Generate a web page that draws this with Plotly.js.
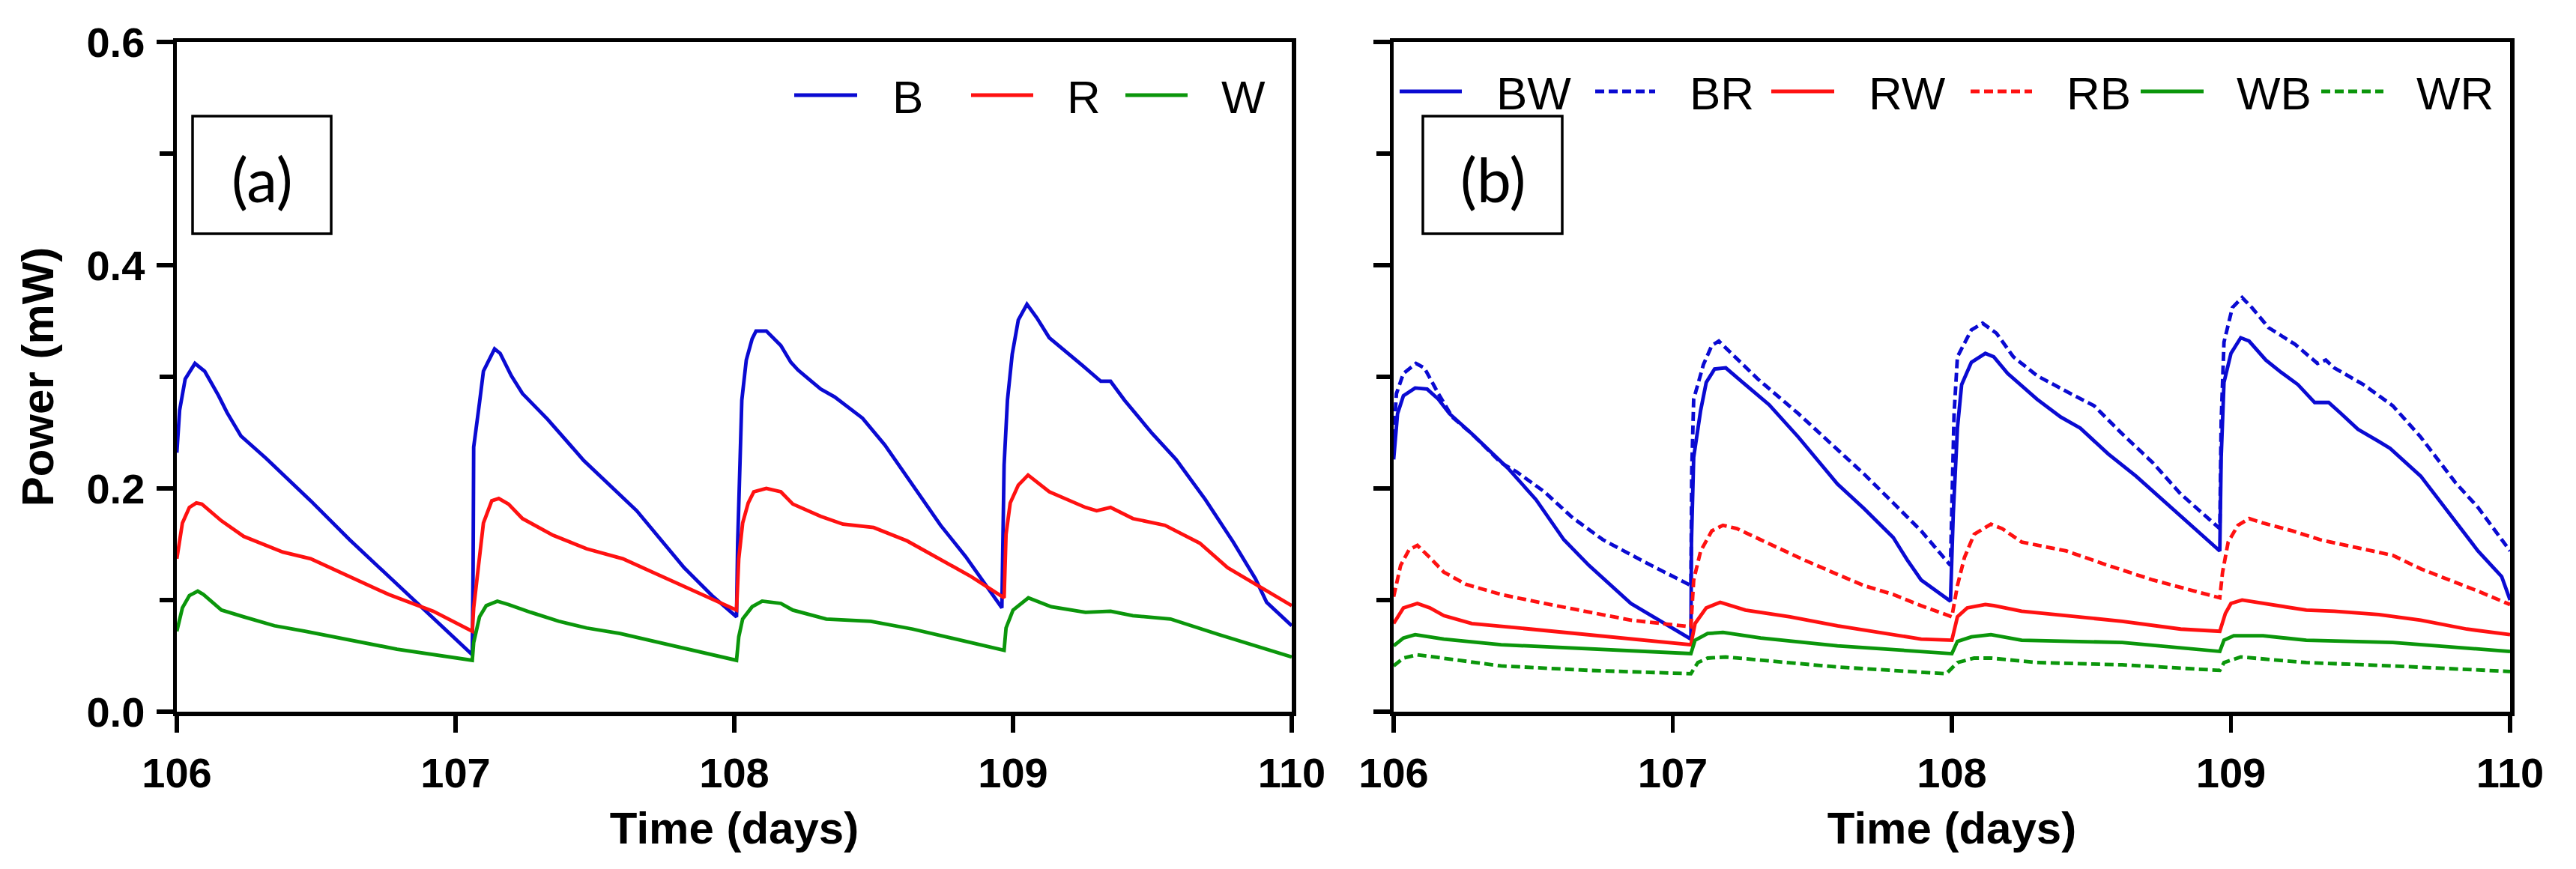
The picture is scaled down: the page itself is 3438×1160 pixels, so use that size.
<!DOCTYPE html>
<html>
<head>
<meta charset="utf-8">
<script src="https://cdn.plot.ly/plotly-3.0.1.min.js"></script>
<style>html,body{margin:0;padding:0;background:#fff;}#chart{width:3438px;height:1160px;}</style>
</head>
<body>
<div id="chart"></div>
<script>
// ---------- DATA ----------
const xTicks = [106, 107, 108, 109, 110];
const yTicks = [0.0, 0.2, 0.4, 0.6];
const yTickText = ['0.0', '0.2', '0.4', '0.6'];
const yMinorTicks = [0.1, 0.3, 0.5];
const xTitle = 'Time (days)';
const yTitle = 'Power (mW)';
const panelLabels = ['(a)', '(b)'];

// Panel (a)
const tB = [106.00,106.01,106.03,106.065,106.10,106.15,106.18,106.23,106.32,106.48,106.62,106.83,107.06,107.063,107.065,107.086,107.10,107.14,107.16,107.20,107.24,107.33,107.46,107.65,107.82,107.92,108.008,108.012,108.016,108.027,108.043,108.064,108.078,108.115,108.167,108.203,108.229,108.31,108.36,108.46,108.54,108.64,108.74,108.83,108.91,108.96,108.968,108.98,108.997,109.019,109.05,109.085,109.13,109.19,109.25,109.315,109.35,109.40,109.50,109.585,109.69,109.79,109.87,109.91,110.00];
const pB = [0.232,0.270,0.298,0.312,0.305,0.283,0.268,0.247,0.227,0.189,0.154,0.105,0.051,0.130,0.237,0.277,0.305,0.325,0.321,0.301,0.285,0.262,0.225,0.180,0.129,0.104,0.085,0.150,0.187,0.279,0.315,0.334,0.341,0.341,0.328,0.313,0.306,0.289,0.282,0.263,0.239,0.203,0.167,0.139,0.111,0.093,0.221,0.279,0.320,0.351,0.365,0.353,0.335,0.323,0.310,0.296,0.296,0.279,0.249,0.226,0.190,0.152,0.119,0.098,0.077];

const tR = [106.00,106.02,106.045,106.07,106.09,106.16,106.24,106.38,106.48,106.60,106.76,106.92,107.06,107.065,107.086,107.10,107.13,107.155,107.19,107.24,107.35,107.47,107.60,107.84,108.008,108.016,108.03,108.05,108.07,108.115,108.167,108.21,108.31,108.39,108.50,108.62,108.72,108.85,108.968,108.975,108.99,109.019,109.054,109.13,109.26,109.30,109.35,109.43,109.545,109.67,109.77,109.895,110.00];
const pR = [0.137,0.169,0.183,0.187,0.186,0.171,0.157,0.143,0.137,0.123,0.105,0.090,0.072,0.093,0.143,0.169,0.189,0.191,0.186,0.173,0.158,0.146,0.137,0.110,0.091,0.137,0.169,0.187,0.197,0.200,0.197,0.186,0.175,0.168,0.165,0.153,0.139,0.121,0.102,0.159,0.187,0.203,0.212,0.197,0.183,0.180,0.183,0.173,0.167,0.151,0.129,0.111,0.095];

const tW = [106.00,106.02,106.045,106.075,106.095,106.16,106.24,106.35,106.46,106.60,106.79,107.06,107.065,107.086,107.11,107.15,107.19,107.27,107.37,107.47,107.59,107.80,108.008,108.016,108.03,108.064,108.10,108.167,108.21,108.33,108.49,108.64,108.80,108.968,108.975,109.00,109.055,109.137,109.26,109.35,109.43,109.565,109.74,110.00];
const pW = [0.072,0.093,0.104,0.108,0.105,0.091,0.085,0.077,0.072,0.065,0.056,0.046,0.062,0.085,0.095,0.099,0.096,0.089,0.081,0.075,0.070,0.058,0.046,0.067,0.083,0.094,0.099,0.097,0.091,0.083,0.081,0.074,0.065,0.055,0.075,0.091,0.102,0.094,0.089,0.090,0.086,0.083,0.069,0.049];

// Panel (b)
const tBW = [106.00,106.014,106.035,106.077,106.12,106.16,106.20,106.28,106.41,106.51,106.61,106.70,106.85,107.005,107.065,107.067,107.075,107.10,107.12,107.15,107.19,107.26,107.345,107.45,107.59,107.685,107.79,107.84,107.89,107.995,108.005,108.02,108.035,108.07,108.12,108.15,108.20,108.305,108.39,108.46,108.56,108.66,108.81,108.89,108.96,108.965,108.975,109.00,109.035,109.065,109.125,109.18,109.24,109.30,109.35,109.395,109.455,109.53,109.57,109.68,109.785,109.885,109.97,110.00];
const pBW = [0.226,0.267,0.283,0.290,0.289,0.280,0.267,0.249,0.218,0.190,0.154,0.131,0.097,0.074,0.065,0.152,0.228,0.270,0.295,0.307,0.308,0.293,0.275,0.246,0.204,0.182,0.156,0.136,0.118,0.099,0.177,0.254,0.293,0.313,0.321,0.318,0.303,0.280,0.264,0.254,0.231,0.211,0.177,0.159,0.144,0.228,0.295,0.321,0.335,0.332,0.315,0.304,0.293,0.277,0.277,0.267,0.253,0.242,0.236,0.211,0.177,0.144,0.121,0.100];

const tBR = [106.00,106.01,106.035,106.08,106.11,106.16,106.21,106.28,106.385,106.44,106.54,106.64,106.75,106.90,107.065,107.068,107.075,107.11,107.14,107.165,107.21,107.305,107.45,107.59,107.685,107.79,107.89,107.995,108.008,108.02,108.07,108.11,108.16,108.22,108.305,108.41,108.51,108.61,108.72,108.82,108.96,108.965,108.975,109.005,109.04,109.075,109.135,109.23,109.31,109.34,109.37,109.475,109.58,109.68,109.805,109.885,110.00];
const pBR = [0.245,0.285,0.303,0.312,0.308,0.285,0.264,0.249,0.223,0.215,0.197,0.174,0.154,0.134,0.113,0.215,0.280,0.311,0.328,0.332,0.321,0.298,0.267,0.235,0.213,0.187,0.162,0.131,0.267,0.318,0.342,0.348,0.339,0.318,0.301,0.287,0.274,0.249,0.223,0.195,0.164,0.260,0.331,0.362,0.371,0.362,0.344,0.329,0.312,0.315,0.308,0.293,0.274,0.246,0.205,0.183,0.144];

const tRW = [106.00,106.035,106.085,106.13,106.18,106.28,106.49,106.70,106.90,107.065,107.08,107.12,107.17,107.26,107.42,107.59,107.89,108.00,108.02,108.055,108.12,108.15,108.25,108.41,108.61,108.82,108.96,108.98,109.00,109.04,109.115,109.27,109.37,109.53,109.68,109.845,110.00];
const pRW = [0.079,0.093,0.097,0.093,0.086,0.079,0.074,0.069,0.064,0.060,0.079,0.093,0.098,0.091,0.085,0.077,0.065,0.064,0.085,0.093,0.096,0.095,0.090,0.086,0.081,0.074,0.072,0.088,0.097,0.100,0.097,0.091,0.090,0.087,0.082,0.074,0.069];

const tRB = [106.00,106.025,106.055,106.085,106.13,106.18,106.26,106.385,106.54,106.70,106.85,107.065,107.075,107.10,107.14,107.18,107.23,107.315,107.47,107.59,107.685,107.79,107.89,108.00,108.02,108.045,108.08,108.14,108.18,108.25,108.41,108.56,108.72,108.87,108.96,108.97,108.99,109.025,109.065,109.115,109.22,109.32,109.475,109.58,109.68,109.785,109.885,110.00];
const pRB = [0.103,0.131,0.145,0.149,0.138,0.125,0.114,0.105,0.097,0.089,0.082,0.076,0.118,0.144,0.162,0.167,0.164,0.154,0.136,0.123,0.113,0.105,0.095,0.085,0.113,0.138,0.159,0.168,0.164,0.152,0.144,0.131,0.118,0.108,0.102,0.125,0.152,0.167,0.173,0.169,0.162,0.154,0.146,0.140,0.128,0.118,0.108,0.096];

const tWB = [106.00,106.035,106.077,106.18,106.385,106.70,107.065,107.08,107.125,107.18,107.315,107.59,108.00,108.02,108.07,108.14,108.25,108.61,108.96,108.975,109.01,109.115,109.27,109.58,109.785,110.00];
const pWB = [0.059,0.066,0.069,0.065,0.060,0.056,0.052,0.064,0.070,0.071,0.066,0.059,0.052,0.063,0.067,0.069,0.064,0.062,0.054,0.064,0.068,0.068,0.064,0.062,0.058,0.054];

const tWR = [106.00,106.035,106.085,106.18,106.385,106.70,107.065,107.09,107.125,107.19,107.315,107.59,107.98,108.02,108.08,108.14,108.305,108.61,108.96,108.975,109.035,109.27,109.58,110.00];
const pWR = [0.041,0.048,0.051,0.048,0.041,0.037,0.034,0.044,0.048,0.049,0.046,0.040,0.034,0.044,0.048,0.048,0.044,0.042,0.037,0.044,0.049,0.044,0.041,0.036];

// ---------- STYLE ----------
const BLUE = '#0a0ad2', RED = '#ff1111', GREEN = '#0b960b';
const DASH = '12px,6px';
const LW = 4.8;
const AXW = 5.5;

const seriesA = [
  {name:'B', t:tB, p:pB, color:BLUE, dash:'solid'},
  {name:'R', t:tR, p:pR, color:RED, dash:'solid'},
  {name:'W', t:tW, p:pW, color:GREEN, dash:'solid'}
];
const seriesB = [
  {name:'BW', t:tBW, p:pBW, color:BLUE, dash:'solid'},
  {name:'BR', t:tBR, p:pBR, color:BLUE, dash:DASH},
  {name:'RW', t:tRW, p:pRW, color:RED, dash:'solid'},
  {name:'RB', t:tRB, p:pRB, color:RED, dash:DASH},
  {name:'WB', t:tWB, p:pWB, color:GREEN, dash:'solid'},
  {name:'WR', t:tWR, p:pWR, color:GREEN, dash:DASH}
];

const W = 3438, H = 1160;
const px = v => v / W;
const py = v => 1 - v / H;

const traces = [];
seriesA.forEach(s => traces.push({x:s.t, y:s.p, name:s.name, type:'scatter', mode:'lines', xaxis:'x', yaxis:'y', showlegend:false, line:{color:s.color, width:LW, dash:s.dash}}));
seriesB.forEach(s => traces.push({x:s.t, y:s.p, name:s.name, type:'scatter', mode:'lines', xaxis:'x2', yaxis:'y2', showlegend:false, line:{color:s.color, width:LW, dash:s.dash}}));

const tickFont = {family:'Liberation Sans, Arial, sans-serif', size:56, color:'#000', weight:700};
const titleFont = {family:'Liberation Sans, Arial, sans-serif', size:60, color:'#000', weight:700};

function xAxis(domain, anchor){
  return {domain:domain, anchor:anchor, range:[106,110], tickvals:xTicks, ticktext:xTicks.map(String),
    showline:true, mirror:true, linecolor:'#000', linewidth:AXW, ticks:'outside', ticklen:22, tickwidth:AXW, tickcolor:'#000',
    showgrid:false, zeroline:false, tickfont:tickFont, ticklabelstandoff:6,
    title:{text:xTitle, font:titleFont, standoff:24}, fixedrange:true};
}
function yAxis(domain, anchor, labels){
  return {domain:domain, anchor:anchor, range:[0,0.6], tickvals:yTicks, ticktext:yTickText,
    showticklabels:labels, showline:true, mirror:true, linecolor:'#000', linewidth:AXW, ticks:'outside', ticklen:22, tickwidth:AXW, tickcolor:'#000',
    minor:{tickvals:yMinorTicks, ticks:'outside', ticklen:18, tickwidth:AXW, tickcolor:'#000', showgrid:false},
    showgrid:false, zeroline:false, tickfont:tickFont, ticklabelstandoff:4,
    title: labels ? {text:yTitle, font:titleFont, standoff:26} : {text:''}, fixedrange:true};
}

const yDom = [py(950), py(56)];
const layout = {
  width:W, height:H, margin:{l:0, r:0, t:0, b:0}, paper_bgcolor:'#fff', plot_bgcolor:'#fff', showlegend:false,
  xaxis: xAxis([px(236), px(1724)], 'y'),
  yaxis: yAxis(yDom, 'x', true),
  xaxis2: xAxis([px(1860), px(3350)], 'y2'),
  yaxis2: yAxis(yDom, 'x2', false),
  shapes:[], annotations:[]
};

// Panel label boxes
const boxes = [
  {x0:257, x1:442, y0:155, y1:312, label:panelLabels[0]},
  {x0:1899, x1:2085, y0:155, y1:312, label:panelLabels[1]}
];
boxes.forEach(b => {
  layout.shapes.push({type:'rect', xref:'paper', yref:'paper', x0:px(b.x0), x1:px(b.x1), y0:py(b.y1), y1:py(b.y0), line:{color:'#000', width:3.5}, fillcolor:'rgba(0,0,0,0)'});
  layout.annotations.push({xref:'paper', yref:'paper', x:px((b.x0+b.x1)/2), y:py((b.y0+b.y1)/2+4), xanchor:'center', yanchor:'middle', showarrow:false, text:b.label, font:{family:'Lato, Open Sans, sans-serif', size:82, color:'#000'}});
});

// Custom legends (line sample start/end, text left edge)
const legA = {y:127, items:[[1060,1144,1192],[1296,1379,1425],[1502,1585,1631]]};
const legB = {y:122, items:[[1868,1951,1998],[2129,2209,2256],[2364,2448,2495],[2630,2712,2759],[2857,2941,2986],[3098,3181,3226]]};
function addLegend(series, leg){
  series.forEach((s, i) => {
    const it = leg.items[i];
    layout.shapes.push({type:'line', xref:'paper', yref:'paper', x0:px(it[0]), x1:px(it[1]), y0:py(leg.y), y1:py(leg.y), line:{color:s.color, width:LW, dash:s.dash}});
    layout.annotations.push({xref:'paper', yref:'paper', x:px(it[2]-3), y:py(leg.y+3), xanchor:'left', yanchor:'middle', showarrow:false, text:s.name, font:{family:'Liberation Sans, Arial, sans-serif', size:62, color:'#000'}});
  });
}
addLegend(seriesA, legA);
addLegend(seriesB, legB);

Plotly.newPlot('chart', traces, layout, {staticPlot:true, displayModeBar:false});
</script>
</body>
</html>
